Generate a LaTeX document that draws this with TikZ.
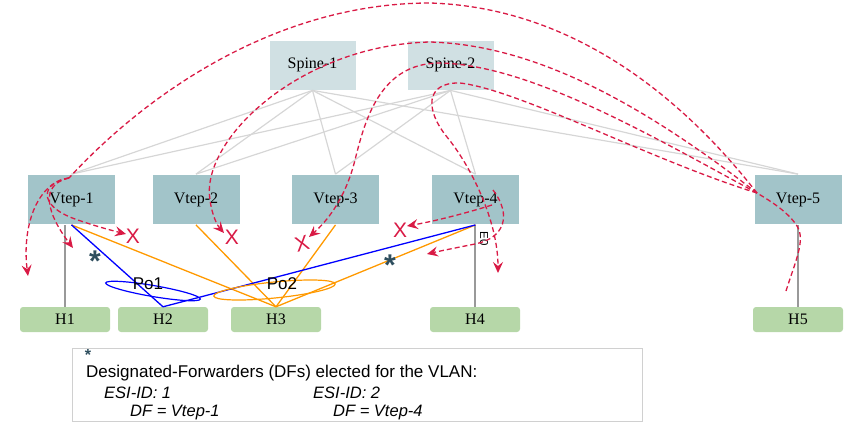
\documentclass[tikz,border=0pt]{standalone}
\usepackage{fontspec}
\setmainfont{Liberation Serif}
\setsansfont{Liberation Sans}
\usetikzlibrary{arrows.meta}
\definecolor{spinefill}{HTML}{D0E0E3}
\definecolor{vtepfill}{HTML}{A2C4C9}
\definecolor{hostfill}{HTML}{B6D7A8}
\definecolor{flood}{HTML}{D91A45}
\definecolor{starc}{HTML}{2E4E5E}
\definecolor{fabric}{HTML}{D6D6D6}
\definecolor{hostlink}{HTML}{999999}
\definecolor{esorange}{HTML}{FF9900}
\definecolor{esblue}{HTML}{0000FF}
\definecolor{legendframe}{HTML}{D0D0D0}
\begin{document}
\begin{tikzpicture}[x=1pt,y=-1pt,
  spinebox/.style={fill=spinefill, draw=white, line width=0.8pt, minimum width=87pt, minimum height=50pt, inner sep=0pt, font=\fontsize{16}{18}\selectfont},
  vtepbox/.style={fill=vtepfill, draw=white, line width=0.8pt, minimum width=88pt, minimum height=50pt, inner sep=0pt, font=\fontsize{16}{18}\selectfont},
  hostbox/.style={fill=hostfill, rounded corners=3pt, minimum width=90pt, minimum height=25pt, inner sep=0pt, font=\fontsize{16}{18}\selectfont},
  fabriclink/.style={draw=fabric, line width=1.2pt},
  hlink/.style={draw=hostlink, line width=1.4pt},
  orangelink/.style={draw=esorange, line width=1.3pt},
  bluelink/.style={draw=esblue, line width=1.3pt},
  flow/.style={draw=flood, line width=1.3pt, dash pattern=on 5pt off 3pt},
  arr/.style={-{Stealth[length=11pt,width=10pt,inset=4pt]}},
  xmark/.style={text=flood, font=\sffamily\fontsize{21}{21}\selectfont, inner sep=0pt},
  dfstar/.style={text=starc, font=\sffamily\bfseries\fontsize{30}{30}\selectfont, inner sep=0pt},
  legendtext/.style={font=\sffamily\fontsize{17}{18}\selectfont, inner sep=0pt, anchor=base west},
  legenditalic/.style={font=\sffamily\itshape\fontsize{16.5}{18}\selectfont, inner sep=0pt, anchor=base west},
  polabel/.style={font=\sffamily\fontsize{17}{17}\selectfont, inner sep=0pt}
]
\path[use as bounding box] (0,0) rectangle (865,434);

% nodes
\node[spinebox] (s1) at (312.5,65) {Spine-1};
\node[spinebox] (s2) at (450.5,65) {Spine-2};
\node[vtepbox] (v1) at (71.5,199.5) {Vtep-1};
\node[vtepbox] (v2) at (196,199.5) {Vtep-2};
\node[vtepbox] (v3) at (335.5,199.5) {Vtep-3};
\node[vtepbox] (v4) at (475.5,199.5) {Vtep-4};
\node[vtepbox] (v5) at (798,199.5) {Vtep-5};
\node[hostbox] (h1) at (65,319.5) {H1};
\node[hostbox] (h2) at (163,319.5) {H2};
\node[hostbox] (h3) at (276,319.5) {H3};
\node[hostbox] (h4) at (475,319.5) {H4};
\node[hostbox] (h5) at (798,319.5) {H5};

% fabric links
\foreach \s in {s1,s2}{
  \foreach \v in {v1,v2,v3,v4,v5}{
    \draw[fabriclink] (\s.south) -- (\v.north);
  }
}

% host links
\draw[hlink] (h1.north) -- (h1.north |- v1.south);
\draw[hlink] (h4.north) -- (h4.north |- v4.south);
\draw[hlink] (h5.north) -- (h5.north |- v5.south);

% ES links
\draw[orangelink] (v1.south) -- (h3.north);
\draw[orangelink] (v2.south) -- (h3.north);
\draw[orangelink] (v3.south) -- (h3.north);
\draw[orangelink] (v4.south) -- (h3.north);
\draw[bluelink] (v1.south) -- (h2.north);
\draw[bluelink] (v4.south) -- (h2.north);

% port-channels
\draw[esblue, line width=1.2pt, rotate around={-9.7:(153,291)}] (153,291) ellipse (48 and 5.5);
\draw[esorange, line width=1.2pt, rotate around={5.7:(274.5,290)}] (274.5,290) ellipse (61 and 8);
\node[polabel] (po1) at (148,284) {Po1};
\node[polabel] (po2) at (282,284) {Po2};

% DF stars
\node[dfstar] (st1) at (95,261) {*};
\node[dfstar] (st2) at (390,265) {*};

% E0 label
\node[font=\sffamily\fontsize{11.5}{11.5}\selectfont, rotate=-90, inner sep=0pt] (e0) at (484,239) {E0};

% blocked marks
\node[xmark] (x1) at (133,236) {X};
\node[xmark] (x2) at (232,237) {X};
\node[xmark, rotate=15] (x3) at (302,244) {X};
\node[xmark] (x4) at (400,230) {X};

% flood coordinates
\coordinate (h5src) at (786,291);
\coordinate (v5in) at (757,193);
\coordinate (v1in) at (69,178);
\coordinate (toh1) at (28,276);
\coordinate (toh2) at (73,248);
\coordinate (tox1) at (126,234);
\coordinate (tox2) at (224,233);
\coordinate (tox3) at (309,237);
\coordinate (toh4) at (498,273);
\coordinate (tox4) at (407,226);
\coordinate (toh3) at (427,254);

% flood paths
\draw[flow] (h5src) .. controls (795,262) and (806,240) .. (797,226) .. controls (788,212) and (772,202) .. (v5in);
\draw[flow] (v5in) .. controls (700,120) and (590,8) .. (430,3) .. controls (280,3) and (150,90) .. (v1in);
\draw[flow,arr] (v1in) .. controls (35,183) and (22,230) .. (toh1);
\draw[flow,arr] (v1in) .. controls (38,185) and (48,215) .. (toh2);
\draw[flow,arr] (v1in) .. controls (42,182) and (36,205) .. (75,219) .. controls (95,226) and (110,230) .. (tox1);
\draw[flow,arr] (v5in) .. controls (650,110) and (540,45) .. (430,42) .. controls (300,45) and (200,140) .. (210,200) .. controls (212,215) and (217,225) .. (tox2);
\draw[flow,arr] (v5in) .. controls (650,135) and (530,65) .. (440,63) .. controls (380,63) and (365,120) .. (355,160) .. controls (345,200) and (326,222) .. (tox3);
\draw[flow,arr] (v5in) .. controls (650,160) and (520,90) .. (460,83) .. controls (425,82) and (425,110) .. (447,137) .. controls (470,165) and (498,220) .. (toh4);
\draw[flow,arr] (492,205) .. controls (460,215) and (430,222) .. (tox4);
\draw[flow,arr] (493,190) .. controls (512,215) and (505,238) .. (475,244) .. controls (455,248) and (440,251) .. (toh3);

% legend
\draw[legendframe, line width=1pt] (72,348) rectangle (642,421);
\node[text=starc, font=\sffamily\bfseries\fontsize{16}{16}\selectfont, inner sep=0pt] (lst) at (88,355) {*};
\node[legendtext] (l1) at (86,377) {Designated-Forwarders (DFs) elected for the VLAN:};
\node[legenditalic] (l2) at (104,398) {ESI-ID: 1};
\node[legenditalic] (l3) at (313,398) {ESI-ID: 2};
\node[legenditalic] (l4) at (130,416) {DF = Vtep-1};
\node[legenditalic] (l5) at (333,416) {DF = Vtep-4};
\end{tikzpicture}
\end{document}
